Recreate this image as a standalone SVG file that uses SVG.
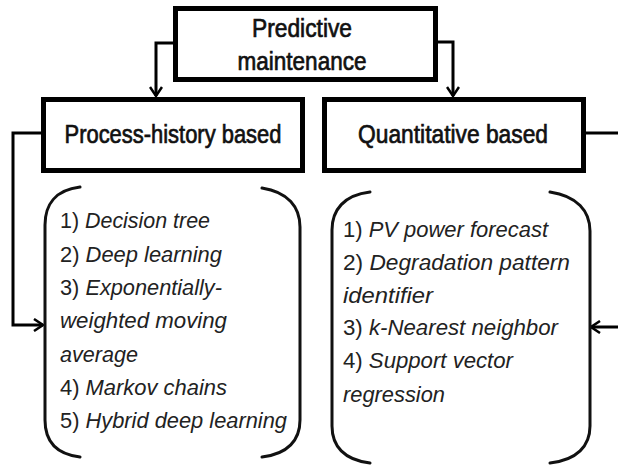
<svg xmlns="http://www.w3.org/2000/svg" width="618" height="465" viewBox="0 0 618 465">
<defs>
<style>
.box{fill:#fff;stroke:#000;stroke-width:5}
.con{fill:none;stroke:#000;stroke-width:3}
.par{fill:none;stroke:#111;stroke-width:3;stroke-linecap:round}
.h{font-family:"Liberation Sans",Arial,sans-serif;font-size:26px;fill:#111;stroke:#111;stroke-width:0.7;text-anchor:middle}
.t{font-family:"Liberation Sans",Arial,sans-serif;font-size:22.5px;fill:#222}
.i{font-style:italic}
</style>
<marker id="ah" markerUnits="userSpaceOnUse" markerWidth="14" markerHeight="14" viewBox="0 0 14 14" refX="12" refY="7" orient="auto">
<path d="M3,1 L12,7 L3,13" fill="none" stroke="#000" stroke-width="2.5"/>
</marker>
</defs>
<rect width="618" height="465" fill="#fff"/>
<g id="connectors">
<path class="con" d="M173,43 H156 V96" marker-end="url(#ah)"/>
<path class="con" d="M438,42 H453 V96" marker-end="url(#ah)"/>
<path class="con" d="M41,133 H13 V325 H43" marker-end="url(#ah)"/>
<path class="con" d="M586,133 H622 V327 H591" marker-end="url(#ah)"/>
</g>
<g id="predictive-maintenance">
<rect class="box" x="175.5" y="8.5" width="260" height="71"/>
<text class="h" x="302" y="37" textLength="100" lengthAdjust="spacingAndGlyphs">Predictive</text>
<text class="h" x="302" y="70" textLength="129" lengthAdjust="spacingAndGlyphs">maintenance</text>
</g>
<g id="process-history">
<rect class="box" x="43.5" y="99.5" width="259" height="71"/>
<text class="h" x="173" y="143" textLength="217" lengthAdjust="spacingAndGlyphs">Process-history based</text>
</g>
<g id="quantitative">
<rect class="box" x="324.5" y="99.5" width="259" height="71"/>
<text class="h" x="453" y="143" textLength="190" lengthAdjust="spacingAndGlyphs">Quantitative based</text>
</g>
<g id="process-history-list">
<path class="par" d="M80,187 C55,190 45,205 45,225 V420 C45,440 55,454 80,457"/>
<path class="par" d="M262,188 C288,192 300,207 300,227 V420 C300,440 288,454 262,457"/>
<text class="t" x="60" y="228" textLength="150" lengthAdjust="spacingAndGlyphs">1) <tspan class="i">Decision tree</tspan></text>
<text class="t" x="60" y="262" textLength="162" lengthAdjust="spacingAndGlyphs">2) <tspan class="i">Deep learning</tspan></text>
<text class="t" x="60" y="295" textLength="162" lengthAdjust="spacingAndGlyphs">3) <tspan class="i">Exponentially-</tspan></text>
<text class="t i" x="60" y="328" textLength="167" lengthAdjust="spacingAndGlyphs">weighted moving</text>
<text class="t i" x="60" y="362" textLength="78" lengthAdjust="spacingAndGlyphs">average</text>
<text class="t" x="60" y="395" textLength="167" lengthAdjust="spacingAndGlyphs">4) <tspan class="i">Markov chains</tspan></text>
<text class="t" x="60" y="428" textLength="227" lengthAdjust="spacingAndGlyphs">5) <tspan class="i">Hybrid deep learning</tspan></text>
</g>
<g id="quantitative-list">
<path class="par" d="M370,192 C344,195 332,210 332,230 V426 C332,446 344,460 370,463"/>
<path class="par" d="M550,192 C577,196 590,211 590,231 V426 C590,446 577,460 550,463"/>
<text class="t" x="343" y="237" textLength="205" lengthAdjust="spacingAndGlyphs">1) <tspan class="i">PV power forecast</tspan></text>
<text class="t" x="343" y="270" textLength="227" lengthAdjust="spacingAndGlyphs">2) <tspan class="i">Degradation pattern</tspan></text>
<text class="t i" x="343" y="303" textLength="90" lengthAdjust="spacingAndGlyphs">identifier</text>
<text class="t" x="343" y="335" textLength="215" lengthAdjust="spacingAndGlyphs">3) <tspan class="i">k-Nearest neighbor</tspan></text>
<text class="t" x="343" y="368" textLength="170" lengthAdjust="spacingAndGlyphs">4) <tspan class="i">Support vector</tspan></text>
<text class="t i" x="343" y="402" textLength="102" lengthAdjust="spacingAndGlyphs">regression</text>
</g>
</svg>
